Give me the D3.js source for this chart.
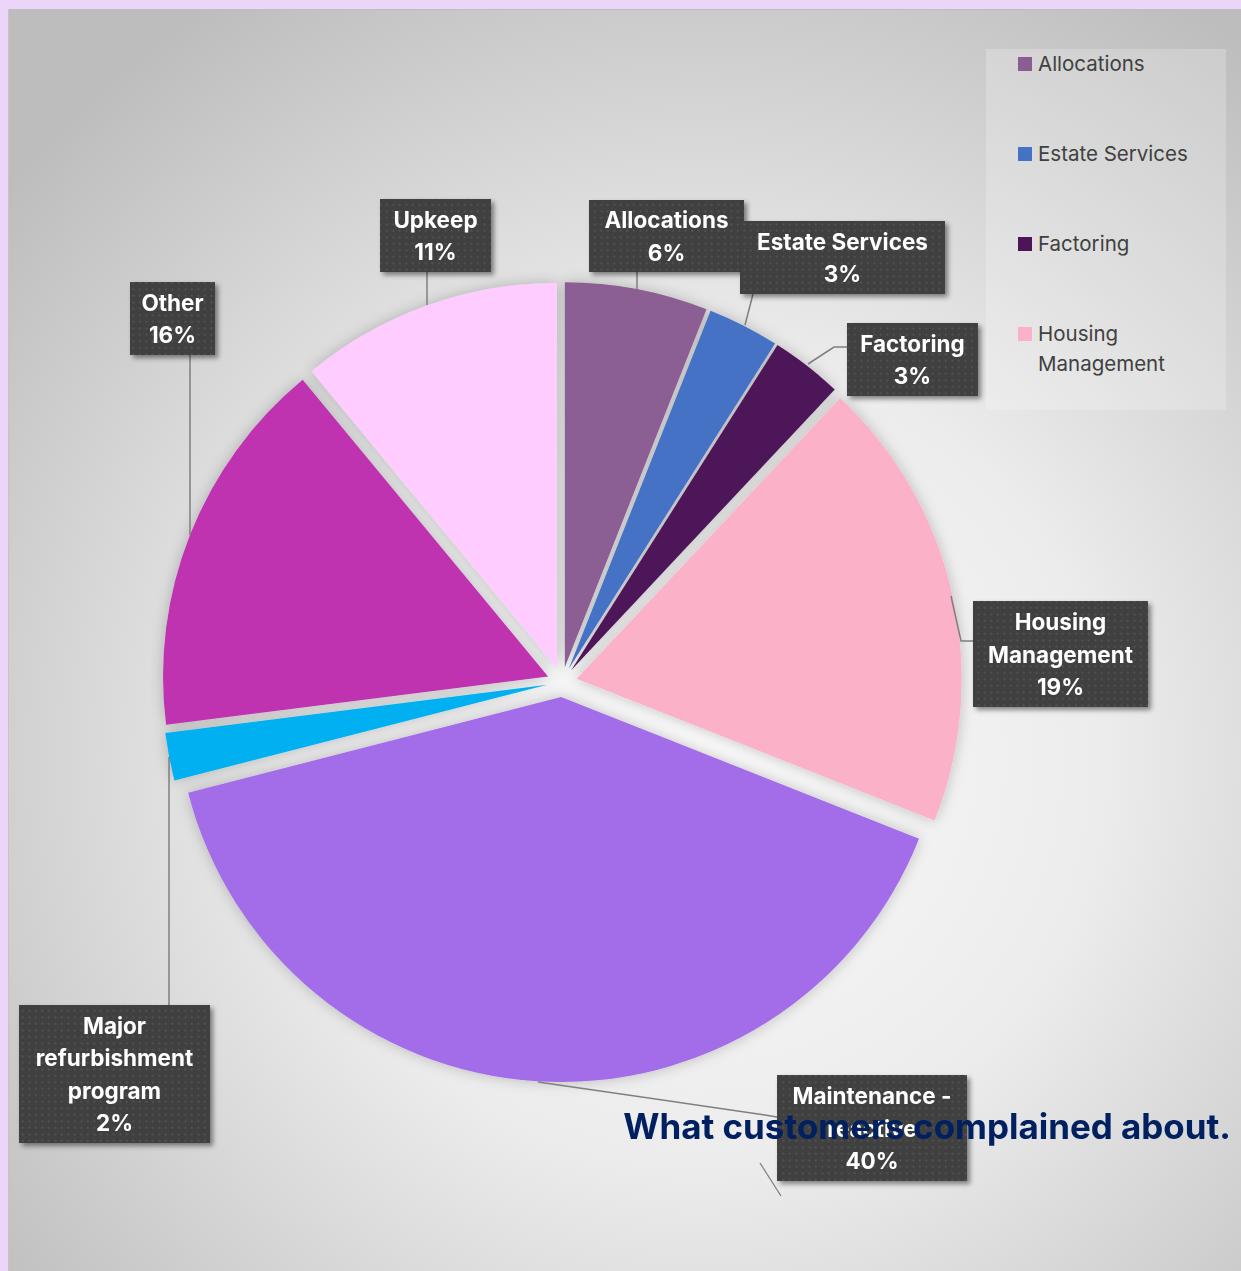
<!DOCTYPE html>
<html><head><meta charset="utf-8">
<script src="https://cdn.jsdelivr.net/npm/d3@7"></script>
<style>
html,body{margin:0;padding:0;background:#ebd5f8;}
svg{display:block;}
</style></head>
<body>
<svg id="chart" width="1241" height="1271"></svg>
<script>
// ---- data ----
const categories = ["Allocations","Estate Services","Factoring","Housing Management","Maintenance - reactive","Major refurbishment program","Other","Upkeep"];
const values = [6,3,3,19,40,2,16,11];
const percentLabels = ["6%","3%","3%","19%","40%","2%","16%","11%"];
const colors = ["#8b5e93","#4472c4","#4e1458","#fbb1c8","#a36ce8","#00b0f0","#bf32b0","#ffccff"];
const legendItems = ["Allocations","Estate Services","Factoring","Housing Management"];
const titleText = "What customers complained about.";

// ---- layout (not data) ----
const W = 1241, H = 1271;
const cx = 562, cy = 682, R = 385, explode = 15;
const labelLayout = [
  {box:[589,200,155,72], lines:["Allocations"], leader:[[637,272],[637,289]]},
  {box:[740,221,205,73], lines:["Estate Services"], leader:[[753,294],[745,325]]},
  {box:[847,323,131,73], lines:["Factoring"], leader:[[847,347],[834,347],[808,364]]},
  {box:[973,601,175,106], lines:["Housing","Management"], leader:[[973,641],[961,641],[951,596]]},
  {box:[777,1075,190,106], lines:["Maintenance -","reactive"], leader:[[538,1082],[765,1115],[777,1117]], extra:[[760,1163],[781,1196]]},
  {box:[19,1005,191,138], lines:["Major","refurbishment","program"], leader:[[169,1005],[169,757]]},
  {box:[130,282,85,73], lines:["Other"], leader:[[190,355],[190,535]]},
  {box:[380,199,111,73], lines:["Upkeep"], leader:[[427,272],[427,305]]}
];

const svg = d3.select("#chart");
const defs = svg.append("defs");

const bg = defs.append("radialGradient").attr("id","bgGrad")
  .attr("gradientUnits","userSpaceOnUse").attr("cx",700).attr("cy",760).attr("r",900);
bg.append("stop").attr("offset","0").attr("stop-color","#fafafa");
bg.append("stop").attr("offset","0.45").attr("stop-color","#ececec");
bg.append("stop").attr("offset","1").attr("stop-color","#bdbdbd");

const pat = defs.append("pattern").attr("id","dots").attr("patternUnits","userSpaceOnUse")
  .attr("width",6.5).attr("height",6.5);
pat.append("rect").attr("width",6.5).attr("height",6.5).attr("fill","#404040");
pat.append("rect").attr("x",2.5).attr("y",2.5).attr("width",1.6).attr("height",1.6).attr("fill","#5a5a5a");

const sh = defs.append("filter").attr("id","boxShadow").attr("x","-20%").attr("y","-20%").attr("width","140%").attr("height","150%");
sh.append("feDropShadow").attr("dx",3).attr("dy",3).attr("stdDeviation",2.5).attr("flood-color","#000").attr("flood-opacity",0.45);

const ps = defs.append("filter").attr("id","pieShadow").attr("x","-20%").attr("y","-20%").attr("width","140%").attr("height","140%");
ps.append("feDropShadow").attr("dx",0).attr("dy",0).attr("stdDeviation",7).attr("flood-color","#000").attr("flood-opacity",0.22);

svg.append("rect").attr("x",8).attr("y",9).attr("width",W-8).attr("height",H-9).attr("fill","url(#bgGrad)");
svg.append("line").attr("x1",8).attr("x2",W).attr("y1",9.5).attr("y2",9.5).attr("stroke","#bdbdbd").attr("stroke-width",1);
svg.append("line").attr("x1",8.5).attr("x2",8.5).attr("y1",9).attr("y2",H).attr("stroke","#c4c4c4").attr("stroke-width",1);

// legend
const legendG = svg.append("g");
legendG.append("rect").attr("x",986).attr("y",49).attr("width",240).attr("height",361)
  .attr("fill","#ffffff").attr("opacity",0.22);
const legendY = d3.scalePoint().domain(legendItems).range([64,334]);
legendItems.forEach((name,i)=>{
  const y = legendY(name);
  const ci = categories.indexOf(name);
  legendG.append("rect").attr("x",1018).attr("y",y-7).attr("width",14).attr("height",14).attr("fill",colors[ci]);
  const words = name === "Housing Management" ? ["Housing","Management"] : [name];
  const t = legendG.append("text").attr("x",1038).attr("y",y+7)
    .attr("font-family","Inter, 'Noto Sans', sans-serif").attr("font-size",20.5).attr("fill","#404040");
  words.forEach((w,j)=> t.append("tspan").attr("x",1038).attr("dy", j===0?0:30).text(w));
});

// pie
const pie = d3.pie().sort(null).value(d=>d).startAngle(0).endAngle(2*Math.PI);
const arcs = pie(values);
const arc = d3.arc().innerRadius(0).outerRadius(R);
const pieG = svg.append("g").attr("transform",`translate(${cx},${cy})`).attr("filter","url(#pieShadow)");
pieG.selectAll("path").data(arcs).join("path")
  .attr("d",arc)
  .attr("fill",(d,i)=>colors[i])
  .attr("transform",d=>{
    const m=(d.startAngle+d.endAngle)/2;
    return `translate(${Math.sin(m)*explode},${-Math.cos(m)*explode})`;
  });

// leader lines
const lineGen = d3.line();
const leaderG = svg.append("g");
labelLayout.forEach(l=>{
  leaderG.append("path").attr("d",lineGen(l.leader)).attr("fill","none").attr("stroke","#7f7f7f").attr("stroke-width",1.5);
  if(l.extra) leaderG.append("path").attr("d",lineGen(l.extra)).attr("fill","none").attr("stroke","#7f7f7f").attr("stroke-width",1.3);
});

// label boxes
const labG = svg.append("g");
labelLayout.forEach((l,i)=>{
  const [x,y,w,h] = l.box;
  labG.append("rect").attr("x",x).attr("y",y).attr("width",w).attr("height",h)
    .attr("fill","url(#dots)").attr("filter","url(#boxShadow)");
  const lines = l.lines.concat([percentLabels[i]]);
  const lh = 32.5;
  const top = y + h/2 - (lines.length-1)*lh/2;
  const t = labG.append("text").attr("text-anchor","middle")
    .attr("font-family","Inter, 'Noto Sans', sans-serif").attr("font-weight","bold")
    .attr("font-size",22.5).attr("fill","#ffffff");
  lines.forEach((s,j)=> t.append("tspan").attr("x",x+w/2).attr("y",top + j*lh + 8.5).text(s));
});

// title
const title = svg.append("text").attr("x",1231).attr("y",1139).attr("text-anchor","end")
  .attr("font-family","Inter, 'Noto Sans', sans-serif").attr("font-weight","bold")
  .attr("font-size",34).attr("fill","#002060").text(titleText);
const tw = title.node().getComputedTextLength();
title.attr("font-size", 34*608/tw);
</script>
</body></html>
